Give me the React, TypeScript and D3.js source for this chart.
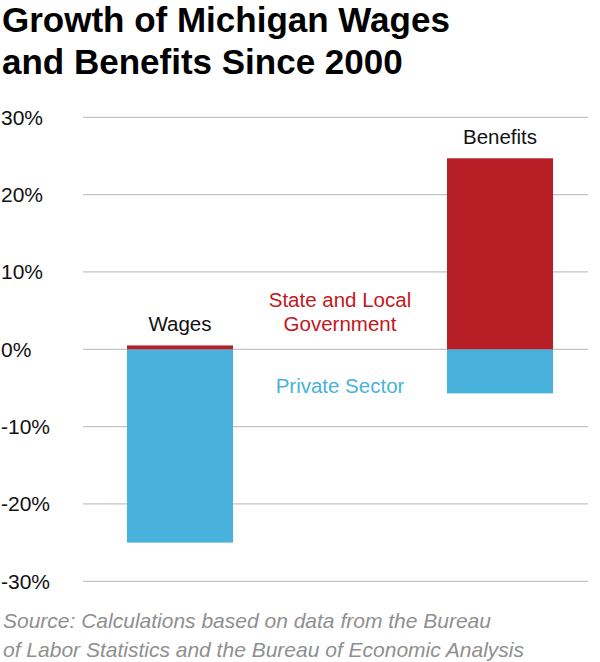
import { useRef, useEffect } from 'react';
import * as d3 from 'd3';

const W = 600;
const H = 662;

const categories = ['Wages', 'Benefits'];
const stateLocal = [0.5, 24.7];
const privateSector = [-25.0, -5.7];
const yTicks = [30, 20, 10, 0, -10, -20, -30];

const RED = '#b81e25';
const BLUE = '#48b2dc';
const FONT = '"Liberation Sans", Arial, Helvetica, sans-serif';

export default function App() {
  const svgRef = useRef<SVGSVGElement>(null);

  useEffect(() => {
    const svg = d3.select(svgRef.current);
    svg.selectAll('*').remove();

    svg.append('rect').attr('width', W).attr('height', H).attr('fill', '#fff');

    // Title
    const title = svg
      .append('text')
      .attr('font-family', FONT)
      .attr('font-weight', 700)
      .attr('font-size', 35)
      .attr('fill', '#000');
    title.append('tspan').attr('x', 2).attr('y', 32).text('Growth of Michigan Wages');
    title.append('tspan').attr('x', 2).attr('y', 74).text('and Benefits Since 2000');

    const y = d3.scaleLinear().domain([-30, 30]).range([581.3, 117.3]);
    const x = d3.scaleBand().domain(categories).range([127, 553]).padding(0);
    const barW = 106;
    const barX = (c: string) => (c === categories[0] ? x(c)! : x(c)! + x.bandwidth() - barW);

    // grid
    yTicks.forEach((t) => {
      svg
        .append('line')
        .attr('x1', 83)
        .attr('x2', 588)
        .attr('y1', y(t))
        .attr('y2', y(t))
        .attr('stroke', '#c4c4c4')
        .attr('stroke-width', 1.2);
      svg
        .append('text')
        .attr('x', 1)
        .attr('y', y(t) + 7.5)
        .attr('font-family', FONT)
        .attr('font-size', 21)
        .attr('fill', '#111')
        .text(`${t}%`);
    });

    categories.forEach((c, i) => {
      const x0 = barX(c);
      svg
        .append('rect')
        .attr('x', x0)
        .attr('width', barW)
        .attr('y', y(0))
        .attr('height', y(privateSector[i]) - y(0))
        .attr('fill', BLUE);
      svg
        .append('rect')
        .attr('x', x0)
        .attr('width', barW)
        .attr('y', y(stateLocal[i]))
        .attr('height', y(0) - y(stateLocal[i]))
        .attr('fill', RED);
      const top = Math.max(stateLocal[i], 0);
      svg
        .append('text')
        .attr('x', x0 + barW / 2)
        .attr('y', y(top) - 14)
        .attr('text-anchor', 'middle')
        .attr('font-family', FONT)
        .attr('font-size', 20.5)
        .attr('fill', '#111')
        .text(c);
    });

    // series labels
    const lab = svg
      .append('text')
      .attr('text-anchor', 'middle')
      .attr('font-family', FONT)
      .attr('font-size', 20.5)
      .attr('fill', '#c4161c');
    lab.append('tspan').attr('x', 340).attr('y', 307).text('State and Local');
    lab.append('tspan').attr('x', 340).attr('y', 331).text('Government');
    svg
      .append('text')
      .attr('x', 340)
      .attr('y', 393)
      .attr('text-anchor', 'middle')
      .attr('font-family', FONT)
      .attr('font-size', 20.5)
      .attr('fill', BLUE)
      .text('Private Sector');

    // source
    const src = svg
      .append('text')
      .attr('font-family', FONT)
      .attr('font-style', 'italic')
      .attr('font-size', 21)
      .attr('fill', '#8f8f8f');
    src.append('tspan').attr('x', 3).attr('y', 628).text('Source: Calculations based on data from the Bureau');
    src.append('tspan').attr('x', 3).attr('y', 657).text('of Labor Statistics and the Bureau of Economic Analysis');
  }, []);

  return (
    <svg
      ref={svgRef}
      width={W}
      height={H}
      style={{ position: 'absolute', left: 0, top: 0 }}
    />
  );
}
